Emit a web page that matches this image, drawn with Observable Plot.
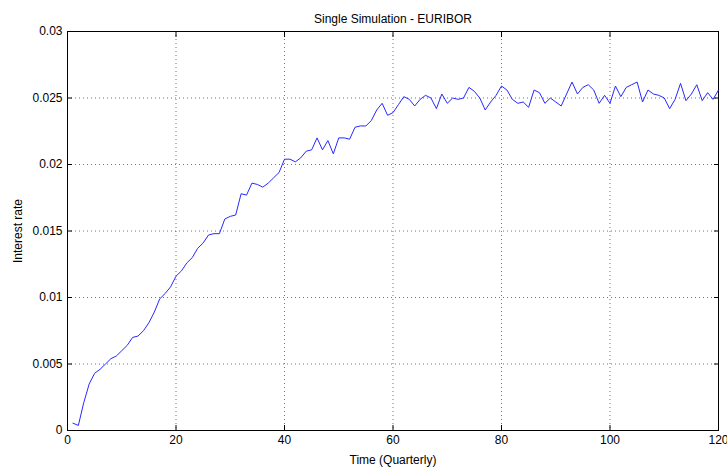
<!DOCTYPE html>
<html>
<head>
<meta charset="utf-8">
<script src="https://cdn.jsdelivr.net/npm/d3@7"></script>
<script src="https://cdn.jsdelivr.net/npm/@observablehq/plot@0.6"></script>
<style>
  html, body { margin: 0; padding: 0; background: #fff; }
  #chart svg { display: block; }
</style>
</head>
<body>
<div id="chart"></div>
<script>
const title = "Single Simulation - EURIBOR";
const xLabel = "Time (Quarterly)";
const yLabel = "Interest rate";
const xTicks = [0, 20, 40, 60, 80, 100, 120];
const yTicks = [0, 0.005, 0.01, 0.015, 0.02, 0.025, 0.03];
const yTickLabels = ["0", "0.005", "0.01", "0.015", "0.02", "0.025", "0.03"];

// Simulated EURIBOR rate, quarters 1..120
const rate = [
  0.00055, 0.00038, 0.0021, 0.0035, 0.0043, 0.0046, 0.0050, 0.0054, 0.0056, 0.0060,
  0.0064, 0.0070, 0.0071, 0.0075, 0.0081, 0.0089, 0.0099, 0.0103, 0.0108, 0.0116,
  0.0120, 0.0126, 0.0130, 0.0137, 0.0141, 0.0147, 0.0148, 0.0148, 0.0159, 0.0161,
  0.0162, 0.0178, 0.0177, 0.0186, 0.0185, 0.0183, 0.0186, 0.0190, 0.0194, 0.0204,
  0.0204, 0.0202, 0.0205, 0.0210, 0.0211, 0.0220, 0.0211, 0.0218, 0.0208, 0.0220,
  0.0220, 0.0219, 0.0228, 0.0229, 0.0229, 0.0233, 0.0241, 0.0246, 0.0237, 0.0239,
  0.0245, 0.0251, 0.0249, 0.0244, 0.0249, 0.0252, 0.0250, 0.0242, 0.0253, 0.0246,
  0.0250, 0.0249, 0.0250, 0.0258, 0.0255, 0.0250, 0.0241, 0.0247, 0.0252, 0.0259,
  0.0256, 0.0249, 0.0246, 0.0247, 0.0243, 0.0256, 0.0254, 0.0246, 0.0250, 0.0247,
  0.0244, 0.0253, 0.0262, 0.0253, 0.0258, 0.0260, 0.0256, 0.0246, 0.0252, 0.0246,
  0.0259, 0.0251, 0.0258, 0.0260, 0.0262, 0.0247, 0.0256, 0.0253, 0.0252, 0.0250,
  0.0242, 0.0249, 0.0261, 0.0248, 0.0253, 0.0260, 0.0248, 0.0254, 0.0249, 0.0256
];

const data = rate.map((v, i) => ({t: i + 1, r: v}));
const yFmt = d => yTickLabels[yTicks.indexOf(d)] ?? String(d);

const chart = Plot.plot({
  width: 727,
  height: 468,
  marginLeft: 67,
  marginRight: 9,
  marginTop: 31,
  marginBottom: 38,
  style: {fontFamily: "'Liberation Sans', Arial, sans-serif", fontSize: "12px", color: "#000", background: "#fff"},
  x: {domain: [0, 120]},
  y: {domain: [0, 0.03]},
  marks: [
    Plot.gridX(xTicks, {stroke: "#000", strokeOpacity: 0.55, strokeDasharray: "1,3"}),
    Plot.gridY(yTicks, {stroke: "#000", strokeOpacity: 0.55, strokeDasharray: "1,3"}),
    Plot.frame({stroke: "#000"}),
    // inward ticks on all four sides
    Plot.axisX({anchor: "bottom", ticks: xTicks, tickSize: -5, text: null, label: null}),
    Plot.axisX({anchor: "top", ticks: xTicks, tickSize: -5, text: null, label: null}),
    Plot.axisY({anchor: "left", ticks: yTicks, tickSize: -5, text: null, label: null}),
    Plot.axisY({anchor: "right", ticks: yTicks, tickSize: -5, text: null, label: null}),
    // tick labels and axis titles
    Plot.axisX({anchor: "bottom", ticks: xTicks, tickSize: 0, tickPadding: 5, tickFormat: d => String(d),
      label: xLabel, labelAnchor: "center", labelArrow: "none", labelOffset: 33}),
    Plot.axisY({anchor: "left", ticks: yTicks, tickSize: 0, tickPadding: 5, tickFormat: yFmt,
      label: yLabel, labelAnchor: "center", labelArrow: "none", labelOffset: 54}),
    Plot.line(data, {x: "t", y: "r", stroke: "#2828ff", strokeWidth: 1}),
    Plot.text([title], {frameAnchor: "top", dy: -17, fontSize: 12, fill: "#000"})
  ]
});
document.getElementById("chart").appendChild(chart);
</script>
</body>
</html>
